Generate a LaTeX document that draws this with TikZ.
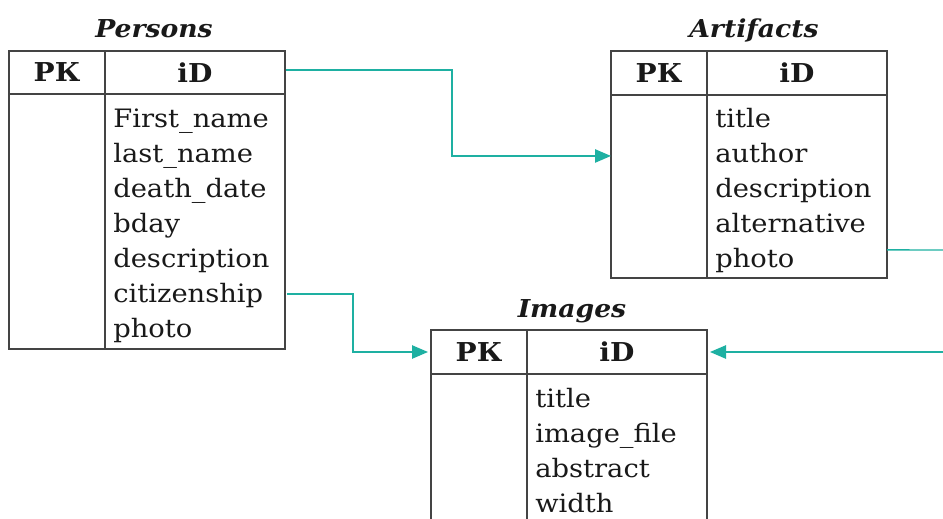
\documentclass[tikz,border=0pt]{standalone}
\usepackage{fontspec}
\setmainfont{DejaVu Serif}[FakeStretch=1.08]
\usetikzlibrary{arrows.meta}
\definecolor{linec}{RGB}{68,68,68}
\definecolor{teal}{RGB}{30,176,162}
\definecolor{ink}{RGB}{25,25,25}
\tikzset{
  cell/.style={draw=linec, line width=1.1pt, inner sep=0pt, outer sep=0pt, anchor=north west,
    font=\fontsize{19.5}{26}\selectfont\bfseries, text=ink},
  fld/.style={inner sep=0pt, anchor=base west, font=\fontsize{19}{26}\selectfont, text=ink},
  ttl/.style={inner sep=0pt, anchor=base, font=\fontsize{18.5}{26}\selectfont\bfseries\itshape, text=ink},
  conn/.style={draw=teal, line width=1.1pt},
  arr/.style={conn, -{Triangle[length=12pt,width=10pt]}}
}
\begin{document}
\begin{tikzpicture}[x=0.75pt,y=-0.75pt]
\useasboundingbox (0,0) rectangle (943,518);
\clip (0,0) rectangle (943,518);
% ---------- Persons ----------
\node[ttl] (perT) at (154,37) {Persons};
\node[cell, minimum width={96*0.75pt}, minimum height={43*0.75pt}] (perPK) at (9,51) {РК};
\node[cell, minimum width={180*0.75pt}, minimum height={43*0.75pt}] (perID) at (105,51) {iD};
\node[cell, minimum width={96*0.75pt}, minimum height={255*0.75pt}] (perL) at (9,94) {};
\node[cell, minimum width={180*0.75pt}, minimum height={255*0.75pt}] (perB) at (105,94) {};
\foreach \t [count=\i] in {First\_name,last\_name,death\_date,bday,description,citizenship,photo}
  \node[fld] (per-\i) at (113,{127+35*(\i-1)}) {\t};
% ---------- Artifacts ----------
\node[ttl] (artT) at (754,37) {Artifacts};
\node[cell, minimum width={96*0.75pt}, minimum height={44*0.75pt}] (artPK) at (611,51) {РК};
\node[cell, minimum width={180*0.75pt}, minimum height={44*0.75pt}] (artID) at (707,51) {iD};
\node[cell, minimum width={96*0.75pt}, minimum height={183*0.75pt}] (artL) at (611,95) {};
\node[cell, minimum width={180*0.75pt}, minimum height={183*0.75pt}] (artB) at (707,95) {};
\foreach \t [count=\i] in {title,author,description,alternative,photo}
  \node[fld] (art-\i) at (715,{127+35*(\i-1)}) {\t};
% ---------- Images ----------
\node[ttl] (imgT) at (572,317) {Images};
\node[cell, minimum width={96*0.75pt}, minimum height={44*0.75pt}] (imgPK) at (431,330) {РК};
\node[cell, minimum width={180*0.75pt}, minimum height={44*0.75pt}] (imgID) at (527,330) {iD};
\node[cell, minimum width={96*0.75pt}, minimum height={200*0.75pt}] (imgL) at (431,374) {};
\node[cell, minimum width={180*0.75pt}, minimum height={200*0.75pt}] (imgB) at (527,374) {};
\foreach \t [count=\i] in {title,image\_file,abstract,width}
  \node[fld] (img-\i) at (535,{407+35*(\i-1)}) {\t};
% ---------- free ends ----------
\coordinate (out1) at (945,250);
\coordinate (in1) at (945,352);
% ---------- connectors ----------
\draw[arr] ([xshift=0.8pt,yshift=1.9pt]perID.east) -- ++(166,0) |- ([yshift=22.9pt]artL.west);
\draw[arr] ([xshift=1.5pt,yshift=-54.4pt]perB.east) -- ++(66,0) |- ([xshift=-2.25pt]imgPK.west);
\draw[conn] ([yshift=-47.6pt]artB.east) -- (out1);
\draw[arr] (in1) -- ([xshift=2.25pt]imgID.east);
\end{tikzpicture}
\end{document}
